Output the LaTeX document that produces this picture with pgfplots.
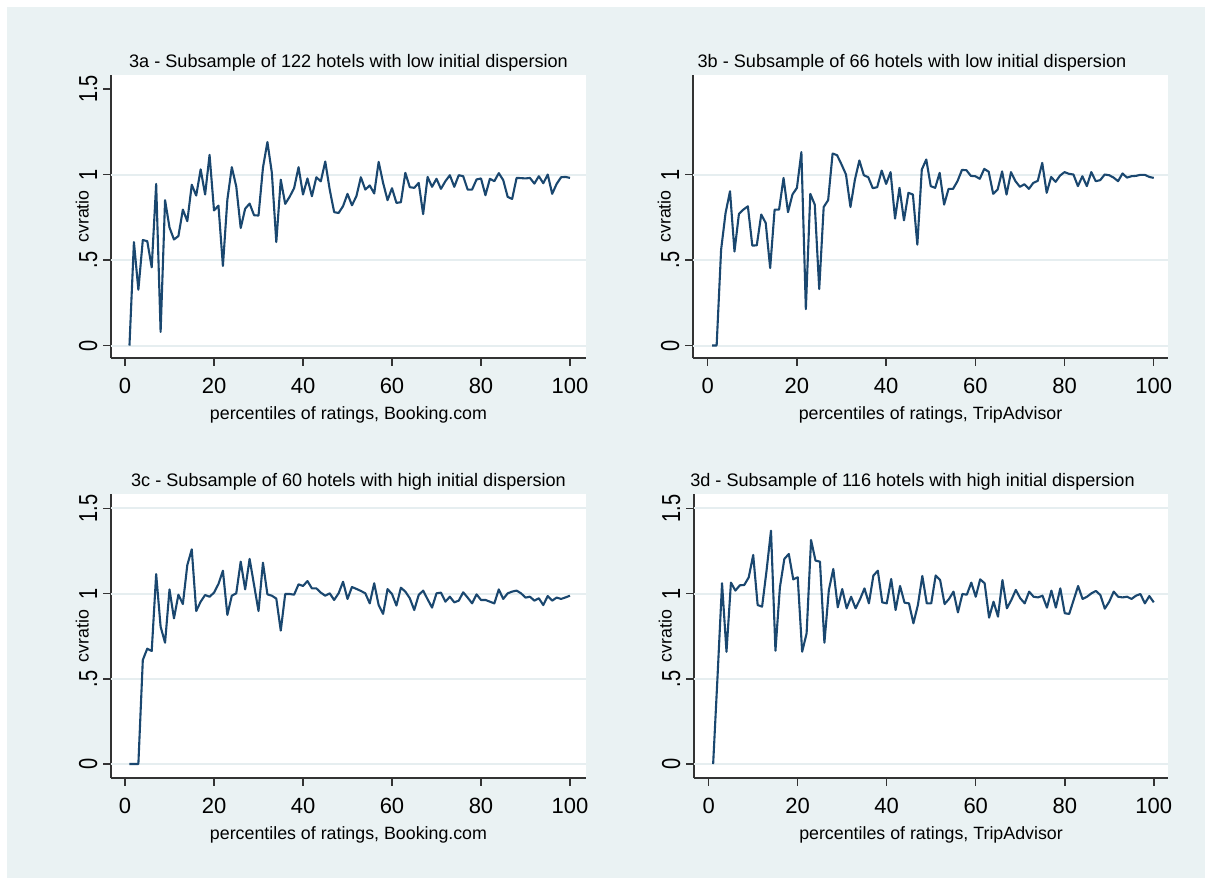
\documentclass[border=0pt]{standalone}
\usepackage{fontspec}
\setmainfont{Liberation Sans}
\usepackage{pgfplots}
\pgfplotsset{compat=1.18}
\definecolor{bgc}{HTML}{EAF2F3}
\definecolor{linec}{HTML}{1A476F}
\definecolor{gridc}{HTML}{E6EEF0}
\definecolor{axisc}{HTML}{333333}
\pgfplotsset{
 every axis title/.style={font=\fontsize{9.05}{11}\selectfont, anchor=base, yshift=3.5pt},
 cvline/.style={draw=linec, line width=1.05pt, mark=none, line join=round},
 cvstyle/.style={
  scale only axis,
  anchor=south west,
  axis x line=bottom, axis y line=left,
  axis line style={-, draw=axisc, line width=1pt},
  axis background/.style={fill=white},
  tick align=outside, major tick length=4pt,
  tick style={draw=axisc, line width=0.75pt},
  xtick={0,20,40,60,80,100},
  /pgf/number format/assume math mode=true,
  xticklabel style={font=\fontsize{11}{13}\selectfont, anchor=base},
  xticklabel shift=14pt,
  yticklabel style={font=\fontsize{10}{12}\selectfont, rotate=90, yscale=1.3, anchor=base},
  yticklabel shift=3pt,
  extra y tick style={grid=major, major tick length=0pt},
  extra y tick labels={},
  grid style={draw=gridc, line width=1pt},
  ylabel={cvratio},
  ylabel style={font=\fontsize{8.9}{10}\selectfont, at={(axis description cs:-0.047,0.5)}, anchor=base, rotate=0},
  xlabel style={font=\fontsize{8.9}{10}\selectfont, at={(axis description cs:0.5,0)}, anchor=base, yshift=-31pt},
 }
}
\begin{document}
\begin{tikzpicture}
\fill[white] (0pt,0pt) rectangle (602.5pt,439pt);
\fill[bgc] (3.5pt,0pt) rectangle (602.5pt,435.5pt);
% ---------------- 3a
\begin{axis}[cvstyle, at={(55.5pt,260pt)}, width=237.5pt, height=141.5pt,
  xmin=-3.15, xmax=103.6, ymin=-0.073, ymax=1.582,
  ytick={0,0.5,1,1.5}, yticklabels={0,.5,1,1.5}, extra y ticks={0,0.5,1},
  xlabel={percentiles of ratings, Booking.com},
  title={3a - Subsample of 122 hotels with low initial dispersion},
  title style={at={(axis description cs:0.5,1)}}]
\addplot[cvline] table {
1 0
2 0.605
3 0.326
4 0.617
5 0.61
6 0.457
7 0.945
8 0.08
9 0.85
10 0.69
11 0.62
12 0.64
13 0.795
14 0.727
15 0.94
16 0.877
17 1.03
18 0.883
19 1.115
20 0.79
21 0.818
22 0.465
23 0.853
24 1.043
25 0.93
26 0.687
27 0.80
28 0.83
29 0.762
30 0.76
31 1.04
32 1.19
33 1.01
34 0.605
35 0.97
36 0.828
37 0.87
38 0.92
39 1.043
40 0.883
41 0.977
42 0.873
43 0.984
44 0.96
45 1.076
46 0.912
47 0.78
48 0.775
49 0.815
50 0.887
51 0.82
52 0.873
53 0.984
54 0.912
55 0.936
56 0.889
57 1.074
58 0.951
59 0.85
60 0.92
61 0.834
62 0.838
63 1.01
64 0.926
65 0.922
66 0.951
67 0.768
68 0.986
69 0.928
70 0.975
71 0.916
72 0.961
73 0.996
74 0.928
75 0.996
76 0.99
77 0.912
78 0.912
79 0.971
80 0.977
81 0.879
82 0.975
83 0.961
84 1.008
85 0.967
86 0.869
87 0.857
88 0.98
89 0.979
90 0.977
91 0.98
92 0.947
93 0.99
94 0.949
95 1.0
96 0.887
97 0.945
98 0.984
99 0.986
100 0.98
};
\end{axis}
% ---------------- 3b
\begin{axis}[cvstyle, at={(346.5pt,260pt)}, width=237.5pt, height=141.5pt,
  xmin=-3.3, xmax=103.2, ymin=-0.073, ymax=1.582,
  ytick={0,0.5,1}, yticklabels={0,.5,1}, extra y ticks={0,0.5,1},
  xlabel={percentiles of ratings, TripAdvisor},
  title={3b - Subsample of 66 hotels with low initial dispersion},
  title style={at={(axis description cs:0.461,1)}}]
\addplot[cvline] table {
1 0
2 0
3 0.56
4 0.775
5 0.902
6 0.55
7 0.77
8 0.795
9 0.814
10 0.584
11 0.586
12 0.766
13 0.717
14 0.453
15 0.795
16 0.795
17 0.98
18 0.78
19 0.883
20 0.922
21 1.131
22 0.213
23 0.887
24 0.824
25 0.33
26 0.81
27 0.85
28 1.123
29 1.113
30 1.059
31 1.0
32 0.81
33 0.97
34 1.082
35 0.996
36 0.984
37 0.92
38 0.926
39 1.023
40 0.945
41 1.014
42 0.742
43 0.922
44 0.732
45 0.893
46 0.883
47 0.59
48 1.029
49 1.088
50 0.932
51 0.922
52 1.01
53 0.824
54 0.916
55 0.916
56 0.961
57 1.027
58 1.025
59 0.992
60 0.99
61 0.975
62 1.033
63 1.016
64 0.887
65 0.912
66 1.018
67 0.883
68 1.014
69 0.961
70 0.928
71 0.943
72 0.916
73 0.951
74 0.963
75 1.068
76 0.893
77 0.986
78 0.957
79 0.994
80 1.014
81 1.004
82 1.0
83 0.932
84 0.99
85 0.932
86 1.014
87 0.961
88 0.967
89 1.0
90 0.996
91 0.982
92 0.961
93 1.006
94 0.982
95 0.99
96 0.992
97 0.998
98 0.998
99 0.986
100 0.98
};
\end{axis}
% ---------------- 3c
\begin{axis}[cvstyle, at={(55.5pt,50pt)}, width=237.5pt, height=142pt,
  xmin=-3.15, xmax=103.6, ymin=-0.082, ymax=1.585,
  ytick={0,0.5,1,1.5}, yticklabels={0,.5,1,1.5}, extra y ticks={0,0.5,1,1.5},
  xlabel={percentiles of ratings, Booking.com},
  title={3c - Subsample of 60 hotels with high initial dispersion},
  title style={at={(axis description cs:0.5,1)}}]
\addplot[cvline] table {
1 0
2 0
3 0
4 0.611
5 0.677
6 0.663
7 1.115
8 0.806
9 0.712
10 1.025
11 0.855
12 0.994
13 0.939
14 1.168
15 1.26
16 0.898
17 0.953
18 0.992
19 0.982
20 1.006
21 1.057
22 1.135
23 0.875
24 0.988
25 1.002
26 1.188
27 1.025
28 1.204
29 1.051
30 0.898
31 1.182
32 0.996
33 0.988
34 0.971
35 0.783
36 0.998
37 0.998
38 0.994
39 1.055
40 1.045
41 1.074
42 1.031
43 1.031
44 1.006
45 0.988
46 1.002
47 0.963
48 1.002
49 1.070
50 0.969
51 1.039
52 1.028
53 1.016
54 1.002
55 0.943
56 1.061
57 0.933
58 0.881
59 1.027
60 0.998
61 0.93
62 1.035
63 1.012
64 0.973
65 0.904
66 0.992
67 1.018
68 0.967
69 0.918
70 1.002
71 1.006
72 0.953
73 0.982
74 0.949
75 0.959
76 1.008
77 0.977
78 0.943
79 0.996
80 0.963
81 0.963
82 0.953
83 0.943
84 1.025
85 0.969
86 1.002
87 1.012
88 1.018
89 1.002
90 0.977
91 0.982
92 0.959
93 0.973
94 0.933
95 0.986
96 0.959
97 0.977
98 0.969
99 0.978
100 0.988
};
\end{axis}
% ---------------- 3d
\begin{axis}[cvstyle, at={(347pt,50pt)}, width=237pt, height=142pt,
  xmin=-3.3, xmax=103.2, ymin=-0.082, ymax=1.585,
  ytick={0,0.5,1,1.5}, yticklabels={0,.5,1,1.5}, extra y ticks={0,0.5,1,1.5},
  xlabel={percentiles of ratings, TripAdvisor},
  title={3d - Subsample of 116 hotels with high initial dispersion},
  title style={at={(axis description cs:0.461,1)}}]
\addplot[cvline] table {
1 0
2 0.52
3 1.061
4 0.659
5 1.065
6 1.018
7 1.049
8 1.051
9 1.096
10 1.227
11 0.933
12 0.924
13 1.135
14 1.37
15 0.665
16 1.037
17 1.204
18 1.233
19 1.084
20 1.096
21 0.659
22 0.767
23 1.315
24 1.194
25 1.188
26 0.712
27 1.022
28 1.145
29 0.92
30 1.027
31 0.914
32 0.982
33 0.914
34 0.967
35 1.031
36 0.943
37 1.106
38 1.135
39 0.949
40 0.943
41 1.086
42 0.904
43 1.045
44 0.947
45 0.943
46 0.826
47 0.933
48 1.104
49 0.943
50 0.943
51 1.107
52 1.08
53 0.939
54 0.969
55 1.012
56 0.89
57 0.998
58 0.994
59 1.065
60 0.982
61 1.084
62 1.061
63 0.859
64 0.953
65 0.865
66 1.08
67 0.914
68 0.963
69 1.022
70 0.973
71 0.943
72 1.012
73 0.982
74 0.978
75 0.988
76 0.918
77 1.018
78 0.918
79 1.031
80 0.885
81 0.881
82 0.963
83 1.045
84 0.969
85 0.982
86 1.002
87 1.016
88 0.992
89 0.912
90 0.953
91 1.012
92 0.982
93 0.978
94 0.982
95 0.969
96 0.988
97 0.998
98 0.943
99 0.986
100 0.949
};
\end{axis}
\end{tikzpicture}
\end{document}
